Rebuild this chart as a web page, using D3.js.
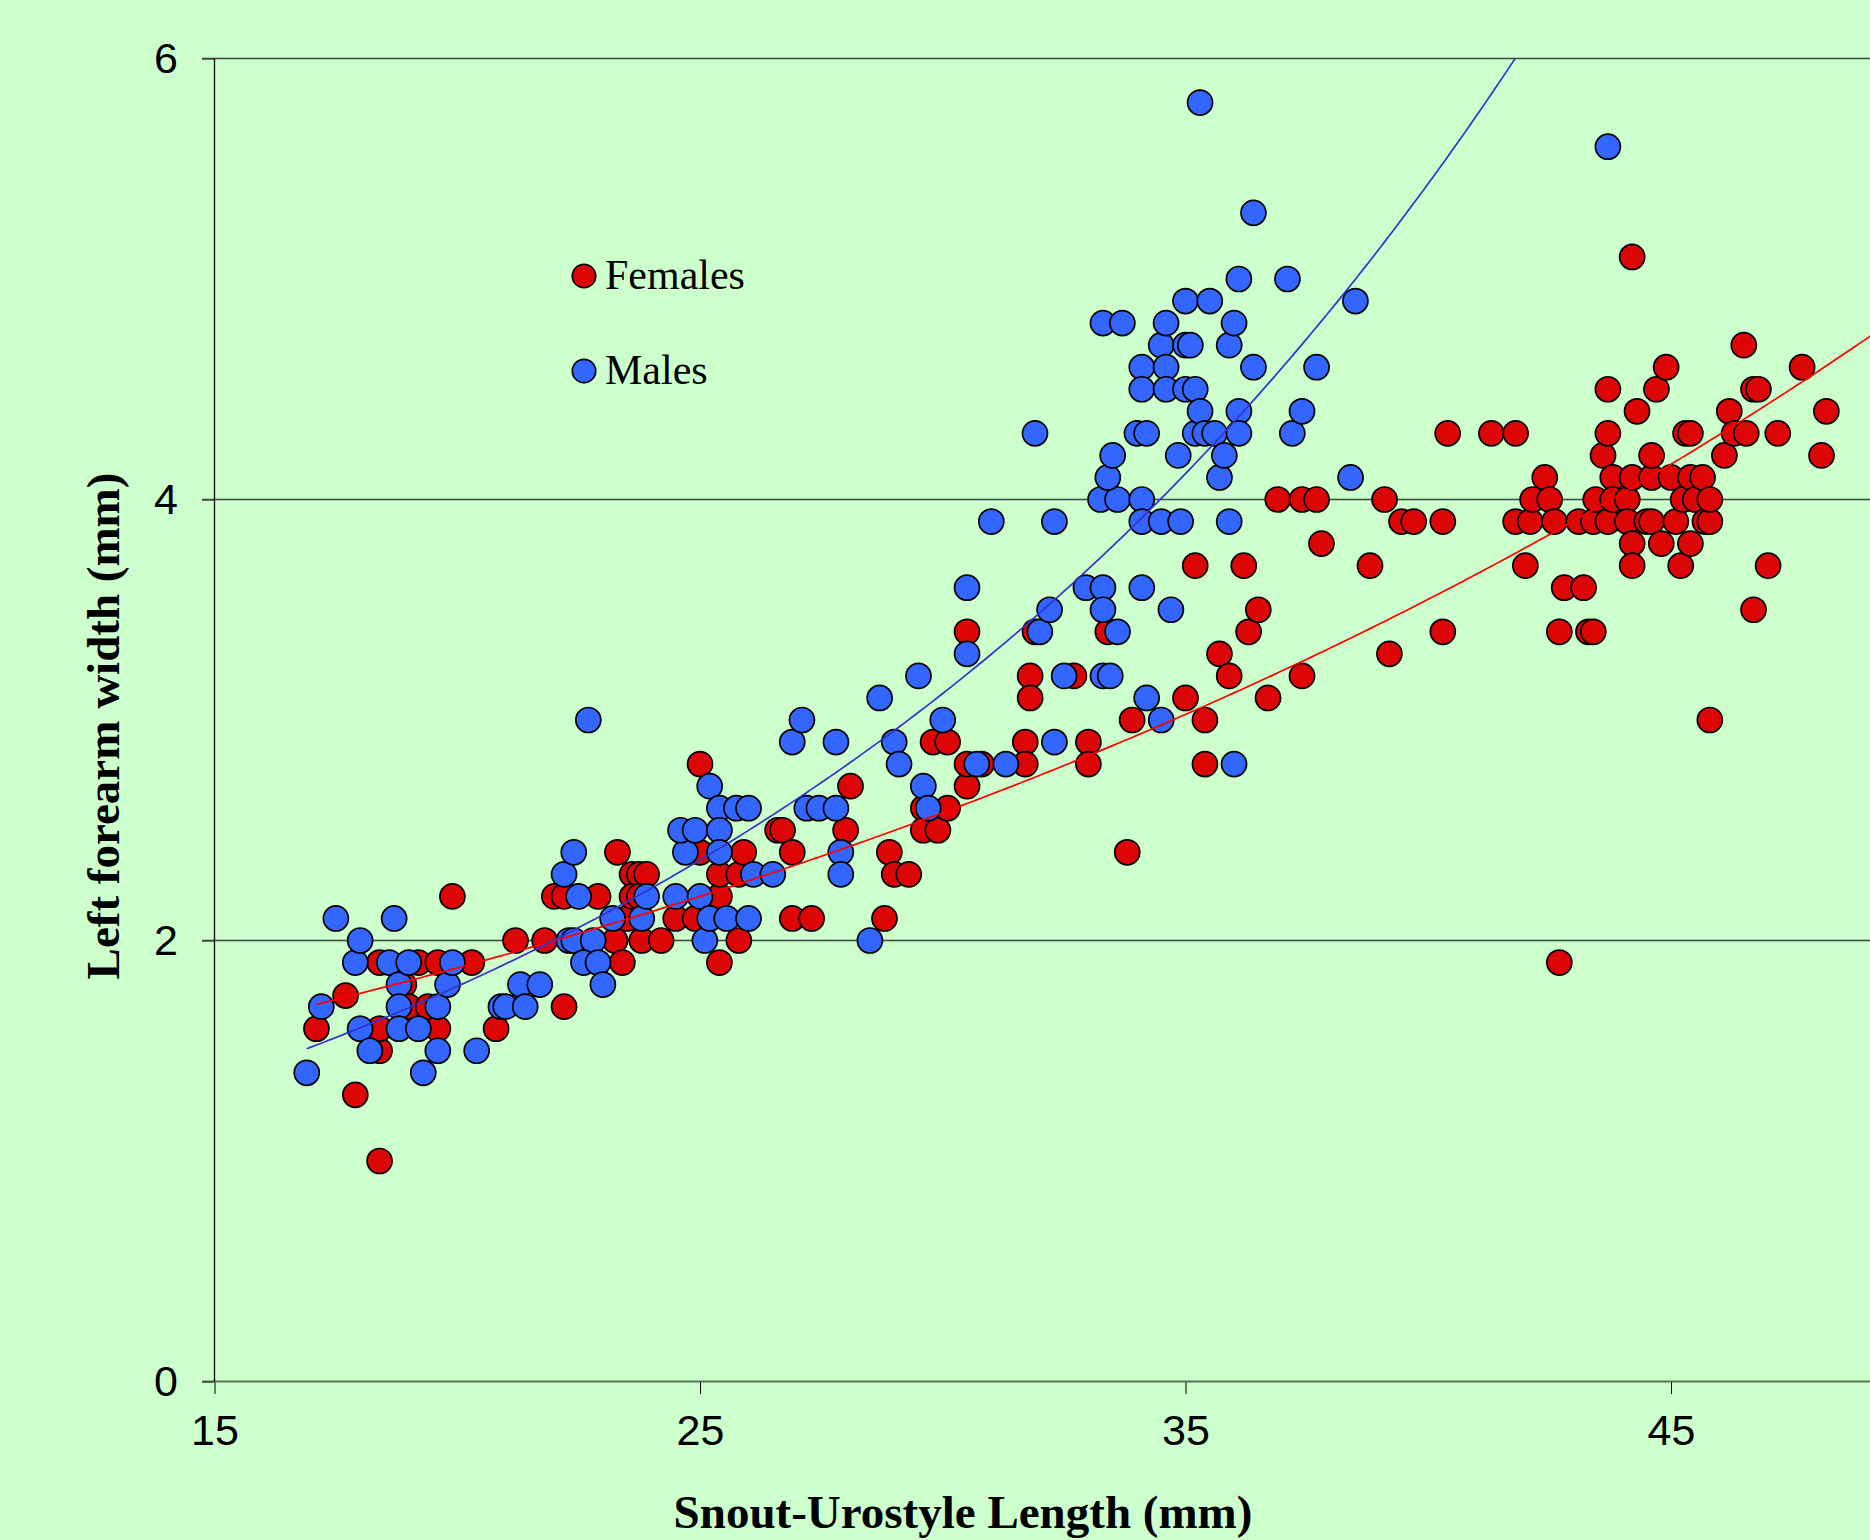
<!DOCTYPE html>
<html>
<head>
<meta charset="utf-8">
<script src="https://cdn.jsdelivr.net/npm/d3@7"></script>
<style>
  html, body { margin: 0; padding: 0; background: #CCFFCC; }
  svg { display: block; }
</style>
</head>
<body>
<div id="chart"></div>
<script>
// snout-urostyle length (mm), left forearm width (mm)
const females = [
  [17.1,1.6],[17.7,1.75],[17.9,1.3],[18.4,1.0],[18.4,1.5],[18.4,1.6],[18.4,1.9],[18.9,1.8],[19.0,1.7],[19.2,1.9],
  [19.4,1.7],[19.6,1.9],[19.6,1.6],[19.9,2.2],[20.3,1.9],[20.8,1.6],[21.2,2.0],[21.8,2.0],[22.2,1.7],
  [22.0,2.2],[22.2,2.2],[22.9,2.2],[23.25,2.0],[23.3,2.4],[23.4,1.9],[23.5,2.1],[23.6,2.3],[23.75,2.3],[23.9,2.3],
  [23.6,2.2],[23.75,2.2],[23.8,2.0],[24.2,2.0],[24.5,2.1],[24.9,2.1],[25.0,2.8],[25.0,2.4],[25.4,2.2],[25.4,2.3],
  [25.4,1.9],[25.8,2.0],[25.8,2.3],[25.9,2.4],[26.6,2.5],[26.7,2.5],[26.9,2.4],[26.9,2.1],[27.3,2.1],[28.0,2.5],
  [28.1,2.7],[28.8,2.1],[28.9,2.4],[29.0,2.3],[29.3,2.3],[29.6,2.6],[29.6,2.5],[29.8,2.9],[29.9,2.5],[30.1,2.9],
  [30.1,2.6],[30.5,2.7],[30.5,3.4],[30.5,2.8],[30.8,2.8],
  [31.7,2.9],[31.7,2.8],[31.8,3.2],[31.8,3.1],[31.9,3.4],[32.7,3.2],[33.0,2.9],[33.0,2.8],[33.4,3.4],[33.8,2.4],
  [33.9,3.0],[35.0,3.1],[35.2,3.7],[35.4,3.0],[35.4,2.8],[35.7,3.3],[35.9,3.2],[36.2,3.7],[36.3,3.4],[36.5,3.5],
  [36.7,3.1],[36.9,4.0],[37.4,4.0],[37.4,3.2],[37.7,4.0],[37.8,3.8],
  [38.8,3.7],[39.1,4.0],[39.2,3.3],[39.45,3.9],[39.7,3.9],[40.3,3.9],[40.3,3.4],[40.4,4.3],[41.3,4.3],[41.8,4.3],
  [41.8,3.9],[42.0,3.7],[42.1,3.9],
  [42.4,4.1],[42.15,4.0],[42.5,4.0],[42.6,3.9],[42.7,3.4],[42.7,1.9],[42.8,3.6],[43.1,3.9],[43.2,3.6],[43.3,3.4],
  [43.4,3.4],[43.4,3.9],[43.45,4.0],[43.6,4.2],[43.7,4.3],[43.7,4.5],[43.7,3.9],[43.8,4.1],[43.8,4.0],[44.1,4.0],
  [44.1,3.9],[44.2,4.1],[44.2,3.8],[44.2,3.7],[44.2,5.1],[44.3,4.4],[44.5,3.9],[44.6,3.9],[44.6,4.1],[44.6,4.2],
  [44.7,4.5],[44.8,3.8],[44.9,4.6],[45.0,4.1],[45.1,3.9],[45.2,3.7],[45.25,4.0],[45.3,4.3],[45.4,4.3],[45.4,4.1],
  [45.4,3.8],[45.5,4.0],[45.65,4.1],[45.7,3.9],[45.8,3.9],[45.8,4.0],[45.8,3.0],[46.1,4.2],[46.2,4.4],[46.3,4.3],
  [46.5,4.7],[46.55,4.3],[46.7,4.5],[46.7,3.5],[46.8,4.5],[47.0,3.7],[47.2,4.3],[47.7,4.6],[48.1,4.2],[48.2,4.4]
];

const males = [
  [16.9,1.4],[17.2,1.7],[17.5,2.1],[17.9,1.9],[18.0,2.0],[18.0,1.6],[18.2,1.5],[18.6,1.9],[18.7,2.1],[18.8,1.8],
  [18.8,1.7],[18.8,1.6],[19.0,1.9],[19.2,1.6],[19.3,1.4],[19.6,1.7],[19.6,1.5],[19.8,1.8],[19.9,1.9],[20.4,1.5],
  [20.9,1.7],[21.0,1.7],[21.3,1.8],[21.4,1.7],[21.7,1.8],
  [22.2,2.3],[22.4,2.4],[22.3,2.0],[22.4,2.0],[22.8,2.0],[22.5,2.2],[22.6,1.9],[22.9,1.9],[22.7,3.0],[23.0,1.8],
  [23.2,2.1],[23.8,2.1],[23.9,2.2],[24.5,2.2],[24.7,2.4],[24.6,2.5],[24.9,2.5],[25.0,2.2],[25.1,2.0],[25.2,2.7],
  [25.2,2.1],[25.4,2.6],[25.4,2.5],[25.4,2.4],[25.55,2.1],[25.75,2.6],[26.0,2.6],[26.0,2.1],[26.1,2.3],[26.5,2.3],
  [26.9,2.9],[27.1,3.0],[27.2,2.6],[27.45,2.6],[27.8,2.6],[27.8,2.9],[27.9,2.4],[27.9,2.3],[28.5,2.0],[28.7,3.1],
  [29.0,2.9],[29.1,2.8],[29.5,3.2],[29.6,2.7],[29.7,2.6],[30.0,3.0],[30.5,3.3],[30.7,2.8],[30.5,3.6],[31.0,3.9],
  [31.3,2.8],
  [31.9,4.3],[32.0,3.4],[32.2,3.5],[32.3,3.9],[32.3,2.9],[32.5,3.2],[32.95,3.6],[33.3,3.6],[33.3,3.5],[33.3,3.2],
  [33.45,3.2],[33.6,3.4],[33.3,4.8],[33.7,4.8],[33.25,4.0],[33.6,4.0],[33.4,4.1],[33.5,4.2],[34.0,4.3],[34.2,4.3],
  [34.1,4.0],[34.1,3.9],[34.1,3.6],[34.1,4.6],[34.1,4.5],[34.2,3.1],[34.5,3.9],[34.5,3.0],[34.5,4.7],[34.6,4.8],
  [34.6,4.6],[34.6,4.5],[34.7,3.5],[34.85,4.2],[34.9,3.9],[35.0,4.9],[35.0,4.7],[35.1,4.7],[35.0,4.5],[35.2,4.5],
  [35.2,4.3],[35.3,4.4],[35.3,5.8],[35.4,4.3],[35.6,4.3],[35.5,4.9],[35.7,4.1],[35.8,4.2],[35.9,4.7],[35.9,3.9],
  [36.0,4.8],[36.0,2.8],[36.1,5.0],[36.1,4.4],[36.1,4.3],[36.4,4.6],[36.4,5.3],[37.1,5.0],[37.2,4.3],[37.4,4.4],
  [37.7,4.6],[38.4,4.1],[38.5,4.9],
  [43.7,5.6]
];

const xTicks = [15, 25, 35, 45];
const yTicks = [0, 2, 4, 6];
const gridValues = [2, 4, 6];
const seriesNames = ['Females', 'Males'];

const W = 1870, H = 1540;
const plotLeft = 214.5, plotTop = 58.5, plotBottom = 1381.5;

const x = d3.scaleLinear().domain([15, 50]).range([plotLeft, plotLeft + 35 * 48.55]);
const y = d3.scaleLinear().domain([0, 6]).range([plotBottom, plotTop]);

const colors = { Females: '#DC0606', Males: '#3366FF' };
const lineColors = { Females: '#FF0000', Males: '#3333CC' };

const svg = d3.select('#chart').append('svg')
  .attr('width', W).attr('height', H)
  .style('background', '#CCFFCC');

svg.append('defs').append('clipPath').attr('id', 'plotClip')
  .append('rect').attr('x', plotLeft).attr('y', plotTop)
  .attr('width', W - plotLeft).attr('height', plotBottom - plotTop);

// grid
svg.append('g')
  .selectAll('line').data(gridValues).join('line')
  .attr('x1', plotLeft - 12.5).attr('x2', W)
  .attr('y1', d => y(d)).attr('y2', d => y(d))
  .attr('stroke', '#3c463c').attr('stroke-width', 1.3);

// x axis
const xAxis = svg.append('g')
  .attr('transform', `translate(0,${plotBottom})`)
  .call(d3.axisBottom(x).tickValues(xTicks).tickSize(12.5).tickPadding(20).tickFormat(d3.format('d')));
xAxis.select('.domain').remove();
xAxis.selectAll('line').attr('stroke', '#000').attr('stroke-width', 1);
xAxis.selectAll('text')
  .attr('font-family', '"Liberation Sans", Arial, sans-serif')
  .attr('font-size', 43).attr('fill', '#000');
svg.append('line')
  .attr('x1', plotLeft - 12.5).attr('x2', W).attr('y1', plotBottom).attr('y2', plotBottom)
  .attr('stroke', '#5a6e5a').attr('stroke-width', 2);

// y axis
const yAxis = svg.append('g')
  .attr('transform', `translate(${plotLeft},0)`)
  .call(d3.axisLeft(y).tickValues(yTicks).tickSize(12.5).tickPadding(24).tickFormat(d3.format('d')));
yAxis.select('.domain').attr('stroke', '#000').attr('stroke-width', 1.3)
  .attr('d', `M0,${plotTop}V${plotBottom}`);
yAxis.selectAll('line').attr('stroke', '#3c463c').attr('stroke-width', 1.3);
yAxis.selectAll('text')
  .attr('font-family', '"Liberation Sans", Arial, sans-serif')
  .attr('font-size', 43).attr('fill', '#000');

// points
const pointsG = svg.append('g').attr('clip-path', 'url(#plotClip)');
[['Females', females], ['Males', males]].forEach(([name, data]) => {
  pointsG.append('g').selectAll('circle').data(data).join('circle')
    .attr('cx', d => x(d[0])).attr('cy', d => y(d[1]))
    .attr('r', 12.5)
    .attr('fill', colors[name]).attr('stroke', '#000').attr('stroke-width', 1.7);
});

// exponential trendlines (least squares on ln y)
function expFit(data) {
  const mx = d3.mean(data, d => d[0]);
  const ml = d3.mean(data, d => Math.log(d[1]));
  let sxy = 0, sxx = 0;
  data.forEach(d => { sxy += (d[0] - mx) * (Math.log(d[1]) - ml); sxx += (d[0] - mx) ** 2; });
  const b = sxy / sxx;
  const a = Math.exp(ml - b * mx);
  return { a, b };
}

const linesG = svg.append('g').attr('clip-path', 'url(#plotClip)');
[['Females', females], ['Males', males]].forEach(([name, data]) => {
  const fit = expFit(data);
  const x0 = d3.min(data, d => d[0]);
  const xs = d3.range(x0, 50.01, 0.1);
  const line = d3.line().x(v => x(v)).y(v => y(fit.a * Math.exp(fit.b * v)));
  linesG.append('path').datum(xs)
    .attr('d', line)
    .attr('fill', 'none')
    .attr('stroke', lineColors[name]).attr('stroke-width', 1.7);
});

// axis titles
svg.append('text')
  .attr('x', 963).attr('y', 1528)
  .attr('text-anchor', 'middle')
  .attr('font-family', '"Liberation Serif", "Times New Roman", serif')
  .attr('font-weight', 'bold').attr('font-size', 47)
  .text('Snout-Urostyle Length (mm)');

svg.append('text')
  .attr('transform', 'translate(119,726) rotate(-90)')
  .attr('text-anchor', 'middle')
  .attr('font-family', '"Liberation Serif", "Times New Roman", serif')
  .attr('font-weight', 'bold').attr('font-size', 47)
  .text('Left forearm width (mm)');

// legend
const legend = svg.append('g');
seriesNames.forEach((name, i) => {
  const cy = 276 + i * 95;
  legend.append('circle')
    .attr('cx', 584).attr('cy', cy).attr('r', 11.7)
    .attr('fill', colors[name]).attr('stroke', '#000').attr('stroke-width', 1.7);
  legend.append('text')
    .attr('x', 605).attr('y', cy + 13)
    .attr('font-family', '"Liberation Serif", "Times New Roman", serif')
    .attr('font-size', 42).attr('fill', '#000')
    .text(name);
});
</script>
</body>
</html>
